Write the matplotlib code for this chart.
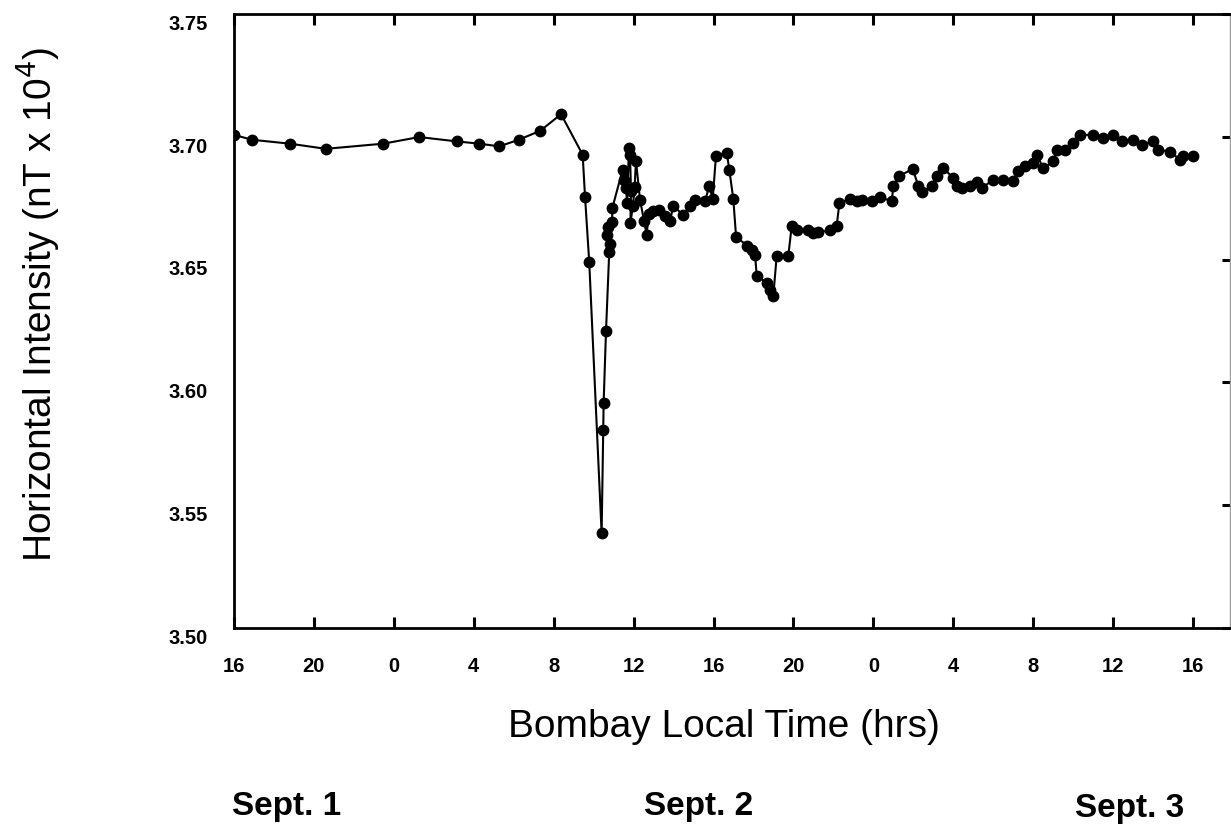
import matplotlib
matplotlib.use("Agg")
import matplotlib.pyplot as plt
from matplotlib.transforms import ScaledTranslation

# ---- data (hours since 16:00 Sept 1, Bombay local time) ----
hours = [0.00, 0.89, 2.80, 4.59, 7.47, 9.27, 11.18, 12.28, 13.28, 14.25,
         15.32, 16.37, 17.45, 17.57, 17.78, 18.40, 18.48, 18.50, 18.62, 18.78,
         18.82, 18.65, 18.73, 18.92, 18.94, 19.45, 19.52, 19.62, 19.67, 19.77,
         19.82, 19.87, 19.84, 19.97, 20.05, 20.12, 20.32, 20.52, 20.65, 20.77,
         20.97, 21.27, 21.57, 21.82, 21.99, 22.49, 22.82, 23.07, 23.57, 23.79,
         23.96, 24.12, 24.66, 24.79, 24.99, 25.13, 25.69, 25.91, 26.08, 26.16,
         26.66, 26.83, 26.99, 27.16, 27.74, 27.91, 28.16, 28.74, 28.99, 29.24,
         29.83, 30.16, 30.30, 30.83, 31.17, 31.42, 31.92, 32.33, 32.92, 33.00,
         33.30, 33.97, 34.25, 34.42, 34.92, 35.17, 35.50, 36.00, 36.17, 36.42,
         36.84, 37.17, 37.42, 38.00, 38.50, 39.00, 39.25, 39.59, 40.00, 40.17,
         40.51, 41.01, 41.18, 41.59, 42.01, 42.34, 43.01, 43.51, 44.01, 44.43,
         45.01, 45.43, 46.01, 46.26, 46.85, 47.35, 47.51, 48.01]
intensity = [3.7008, 3.6988, 3.6972, 3.6951, 3.6972, 3.6999, 3.6981, 3.6972, 3.6961, 3.6988,
             3.7024, 3.7092, 3.6927, 3.6755, 3.6489, 3.5385, 3.5805, 3.5917, 3.6211, 3.6530,
             3.6564, 3.6601, 3.6634, 3.6655, 3.6711, 3.6866, 3.6825, 3.6790, 3.6732, 3.6955,
             3.6927, 3.6780, 3.6650, 3.6720, 3.6797, 3.6902, 3.6744, 3.6659, 3.6602, 3.6687,
             3.6699, 3.6700, 3.6676, 3.6656, 3.6720, 3.6680, 3.6720, 3.6744, 3.6737, 3.6800,
             3.6747, 3.6920, 3.6936, 3.6866, 3.6747, 3.6592, 3.6557, 3.6540, 3.6520, 3.6435,
             3.6405, 3.6378, 3.6351, 3.6513, 3.6513, 3.6635, 3.6622, 3.6619, 3.6609, 3.6611,
             3.6619, 3.6635, 3.6730, 3.6747, 3.6737, 3.6744, 3.6737, 3.6755, 3.6737, 3.6800,
             3.6841, 3.6869, 3.6800, 3.6774, 3.6800, 3.6839, 3.6873, 3.6832, 3.6800, 3.6791,
             3.6800, 3.6814, 3.6791, 3.6825, 3.6825, 3.6818, 3.6859, 3.6880, 3.6893, 3.6927,
             3.6873, 3.6900, 3.6947, 3.6947, 3.6974, 3.7008, 3.7008, 3.6995, 3.7008, 3.6981,
             3.6988, 3.6967, 3.6981, 3.6947, 3.6940, 3.6907, 3.6920, 3.6920]

x_tick_hours = [0, 4, 8, 12, 16, 20, 24, 28, 32, 36, 40, 44, 48]
x_tick_labels = ["16", "20", "0", "4", "8", "12", "16", "20", "0", "4", "8", "12", "16"]
y_ticks = [3.50, 3.55, 3.60, 3.65, 3.70, 3.75]
y_tick_labels = ["3.50", "3.55", "3.60", "3.65", "3.70", "3.75"]
day_labels = ["Sept. 1", "Sept. 2", "Sept. 3"]

x_label = "Bombay Local Time (hrs)"
y_label = r"Horizontal Intensity (nT x 10$^{4}$)"

# ---- figure ----
W, H = 1231, 824
fig = plt.figure(figsize=(W / 100, H / 100), dpi=100)
fig.patch.set_facecolor("white")
ax = fig.add_axes([234 / W, 1 - 628 / H, (1230 - 234) / W, (628 - 14) / H])

ax.plot(hours, intensity, color="black", lw=1.5, marker="o", ms=7.5,
        markerfacecolor="black", markeredgecolor="black", zorder=3)

ax.set_xlim(0, 49.85)
ax.set_ylim(3.50, 3.75)

tick_font = dict(family=["Liberation Sans", "DejaVu Sans"], weight="bold", size=14.5)
ax.set_xticks(x_tick_hours)
ax.set_xticklabels(x_tick_labels, fontdict=tick_font)
ax.set_yticks(y_ticks)
ax.set_yticklabels(y_tick_labels, fontdict=tick_font)

ax.tick_params(axis="x", which="major", direction="in", top=True, bottom=True,
               length=8, width=2.2, pad=21, color="black")
ax.tick_params(axis="y", which="major", direction="in", left=False, right=True,
               labelleft=True, labelright=False, length=6, width=2.2, pad=19,
               color="black")

# y tick labels sit slightly below their ticks in the reference
offset = ScaledTranslation(0, -6 / 72, fig.dpi_scale_trans)
for lbl in ax.get_yticklabels():
    lbl.set_transform(lbl.get_transform() + offset)

for side in ["left", "bottom", "top"]:
    ax.spines[side].set_linewidth(2.0)
    ax.spines[side].set_color("black")
ax.spines["right"].set_linewidth(1.0)
ax.spines["right"].set_color("#9a9a9a")

label_font = dict(family=["Liberation Sans", "DejaVu Sans"], size=28)
fig.text(724 / W, 1 - 727 / H, x_label, ha="center", va="center", **label_font)
fig.text(38 / W, 1 - 304 / H, y_label, ha="center", va="center",
         rotation=90, **label_font)

day_x = [287, 699, 1130]
day_y = [806, 807, 808]
for lab, px, py in zip(day_labels, day_x, day_y):
    fig.text(px / W, 1 - py / H, lab, ha="center", va="center",
             family=["Liberation Sans", "DejaVu Sans"], weight="bold", size=24)

fig.savefig("out.png", dpi=100, facecolor="white")
